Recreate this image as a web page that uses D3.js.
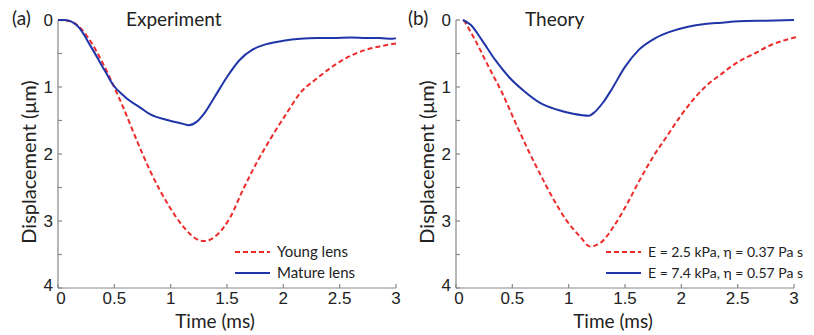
<!DOCTYPE html>
<html><head><meta charset="utf-8">
<script src="https://cdn.jsdelivr.net/npm/d3@7"></script>
<style>body{margin:0;background:#fff}svg{display:block}</style>
</head><body>
<svg id="c" width="814" height="335"></svg>
<script>
// Panel (a) Experiment
const expYoungT = [0,0.08,0.15,0.27,0.39,0.49,0.57,0.7,0.82,0.99,1.11,1.23,1.3,1.41,1.53,1.64,1.76,1.88,2.03,2.15,2.3,2.44,2.59,2.74,2.87,3.0];
const expYoungD = [0,0.01,0.05,0.27,0.62,0.97,1.27,1.8,2.26,2.79,3.08,3.27,3.3,3.21,2.94,2.54,2.14,1.79,1.39,1.09,0.87,0.69,0.54,0.44,0.39,0.35];
const expMatureT = [0,0.06,0.18,0.3,0.42,0.49,0.59,0.74,0.82,0.96,1.11,1.16,1.23,1.3,1.39,1.5,1.61,1.73,1.85,2.0,2.15,2.3,2.44,2.6,2.74,2.85,2.97,3.0];
const expMatureD = [0,0,0.1,0.42,0.77,0.97,1.14,1.32,1.41,1.49,1.55,1.57,1.52,1.39,1.15,0.85,0.6,0.44,0.36,0.31,0.28,0.27,0.27,0.26,0.27,0.27,0.28,0.27];
// Panel (b) Theory
const thYoungT = [0.07,0.17,0.29,0.41,0.53,0.64,0.75,0.87,0.98,1.1,1.19,1.28,1.4,1.52,1.63,1.75,1.87,1.99,2.1,2.21,2.36,2.51,2.65,2.8,2.92,3.04];
const thYoungD = [0,0.3,0.7,1.09,1.54,1.94,2.31,2.69,2.99,3.23,3.38,3.33,3.08,2.74,2.39,2.04,1.74,1.44,1.2,1.0,0.8,0.62,0.5,0.37,0.3,0.25];
const thMatureT = [0.06,0.13,0.23,0.35,0.47,0.59,0.75,0.9,1.04,1.18,1.22,1.31,1.38,1.5,1.62,1.77,1.91,2.06,2.21,2.36,2.51,2.75,3.0];
const thMatureD = [0,0.07,0.3,0.6,0.85,1.04,1.24,1.34,1.4,1.43,1.39,1.22,1.04,0.7,0.45,0.27,0.17,0.1,0.06,0.04,0.02,0.01,0];

const xTicks = [0,0.5,1,1.5,2,2.5,3];
const xTickLabels = ["0","0.5","1","1.5","2","2.5","3"];
const yTicks = [0,0.5,1,1.5,2,2.5,3,3.5,4];
const yTickLabels = ["0","1","2","3","4"];

const panels = [
  {tag:"(a)", title:"Experiment", x0:58, x1:396, titleX:126, tagX:12,
   series:[{t:expYoungT,d:expYoungD,name:"Young lens",dash:true},{t:expMatureT,d:expMatureD,name:"Mature lens",dash:false}],
   legX:235, legFs:15},
  {tag:"(b)", title:"Theory", x0:456, x1:794, titleX:525, tagX:408,
   series:[{t:thYoungT,d:thYoungD,name:"E = 2.5 kPa, η = 0.37 Pa s",dash:true},{t:thMatureT,d:thMatureD,name:"E = 7.4 kPa, η = 0.57 Pa s",dash:false}],
   legX:606, legFs:14}
];

const svg = d3.select("#c");
const yTop = 20, yBot = 288;
const RED = "#ee2a2a", BLUE = "#1f35a8", AX = "#888";
const labelFont = "Lato, 'Open Sans', sans-serif";
const tickFont = "'Liberation Sans', Arial, sans-serif";

panels.forEach(p => {
  const x = d3.scaleLinear().domain([0,3]).range([p.x0,p.x1]);
  const y = d3.scaleLinear().domain([0,4]).range([yTop,yBot]);
  const g = svg.append("g");

  g.append("line").attr("x1",p.x0).attr("x2",p.x1).attr("y1",yBot).attr("y2",yBot).attr("stroke",AX).attr("stroke-width",1.2);
  g.append("line").attr("x1",p.x0).attr("x2",p.x0).attr("y1",yTop).attr("y2",yBot).attr("stroke",AX).attr("stroke-width",1.2);
  xTicks.forEach((v,i) => {
    g.append("line").attr("x1",x(v)).attr("x2",x(v)).attr("y1",yBot).attr("y2",yBot-4).attr("stroke",AX).attr("stroke-width",1.2);
    g.append("text").attr("x",x(v) + (i===0?3:0)).attr("y",yBot+16).attr("text-anchor","middle")
      .attr("font-family",tickFont).attr("font-size",17).attr("fill","#222").text(xTickLabels[i]);
  });
  yTicks.forEach(v => {
    g.append("line").attr("x1",p.x0).attr("x2",p.x0+4).attr("y1",y(v)).attr("y2",y(v)).attr("stroke",AX).attr("stroke-width",1.2);
  });
  yTickLabels.forEach((s) => {
    const v = +s;
    g.append("text").attr("x",p.x0-5).attr("y",y(v)+ (v===4?3:6)).attr("text-anchor","end")
      .attr("font-family",tickFont).attr("font-size",17).attr("fill","#222").text(s);
  });

  g.append("text").attr("x",(p.x0+p.x1)/2-12).attr("y",328).attr("text-anchor","middle")
    .attr("font-family",labelFont).attr("font-size",19).attr("fill","#222").text("Time (ms)");
  g.append("text").attr("transform",`translate(${p.x0-22},162) rotate(-90)`).attr("text-anchor","middle")
    .attr("font-family",labelFont).attr("font-size",20).attr("fill","#222").text("Displacement (μm)");

  g.append("text").attr("x",p.tagX).attr("y",25).attr("font-family",labelFont).attr("font-size",19).attr("fill","#222").text(p.tag);
  g.append("text").attr("x",p.titleX).attr("y",26).attr("font-family",labelFont).attr("font-size",19).attr("fill","#222").text(p.title);

  const line = d3.line().x(d=>x(d[0])).y(d=>y(d[1])).curve(d3.curveMonotoneX);
  p.series.forEach((s,i) => {
    const pts = s.t.map((t,j)=>[t,s.d[j]]);
    g.append("path").datum(pts).attr("d",line).attr("fill","none")
      .attr("stroke", s.dash?RED:BLUE).attr("stroke-width",2)
      .attr("stroke-dasharray", s.dash?"5,3":null);
    const ly = 252 + i*21;
    g.append("line").attr("x1",p.legX).attr("x2",p.legX+35).attr("y1",ly).attr("y2",ly)
      .attr("stroke", s.dash?RED:BLUE).attr("stroke-width",2).attr("stroke-dasharray", s.dash?"5,3":null);
    g.append("text").attr("x",p.legX+42).attr("y",ly+5).attr("font-family",labelFont).attr("font-size",p.legFs)
      .attr("fill","#222").text(s.name);
  });
});
</script>
</body></html>
